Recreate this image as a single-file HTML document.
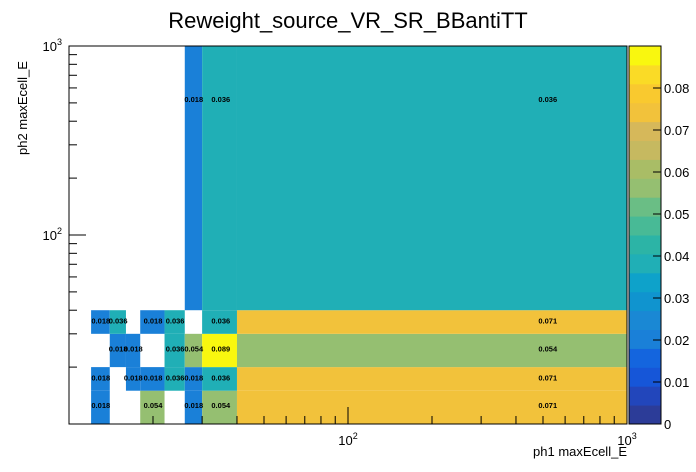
<!DOCTYPE html>
<html><head><meta charset="utf-8">
<style>
body{margin:0;background:#fff;}
svg{display:block;font-family:"Liberation Sans",Arial,sans-serif;}
</style></head>
<body>
<svg id="chart" width="696" height="472" viewBox="0 0 696 472">
<rect width="696" height="472" fill="#fff"/>
<text x="348" y="28" font-size="22" text-anchor="middle" fill="#000">Reweight_source_VR_SR_BBantiTT</text>
<g id="cells"></g>
<g id="labels"></g>
<rect x="69" y="46" width="558" height="378" fill="none" stroke="#000" stroke-width="1"/>
<g id="axes"></g>
<g id="cbar"></g>
<text x="627" y="456" font-size="13" text-anchor="end">ph1 maxEcell_E</text>
<text transform="translate(27,155) rotate(-90)" font-size="13" text-anchor="start">ph2 maxEcell_E</text>
</svg>
<script>
const xEdges=[12,14,16,18,22,26,30,40,1000];
const yEdges=[10,15,20,30,40,1000];
// rows: index by y bin (bottom to top), columns by x bin; null = empty
const row0=[0.018,null,null,0.054,null,0.018,0.054,0.071];
const row1=[0.018,null,0.018,0.018,0.036,0.018,0.036,0.071];
const row2=[null,0.018,0.018,null,0.036,0.054,0.089,0.054];
const row3=[0.018,0.036,null,0.018,0.036,null,0.036,0.071];
const row4=[null,null,null,null,null,0.018,0.036,0.036];
const zMax=0.09;
const cbTicks=[0,0.01,0.02,0.03,0.04,0.05,0.06,0.07,0.08];
const palette=["#2c3c98","#2246bb","#1656d8","#1465de","#1a80d8","#1a88d4","#1094cf","#0ea2ca","#20afb6","#2cb4a6","#48ba96","#6abe85","#95bf71","#a9bd66","#c6b960","#d6b85a","#f2c23b","#f9c92f","#fadb26","#f9f70f"];
const rows=[row0,row1,row2,row3,row4];
const NS="http://www.w3.org/2000/svg";
const L=69,R=627,T=46,B=424;
function xs(v){return L+(R-L)*(Math.log10(v)-1)/2;}
function ys(v){return B-(B-T)*(Math.log10(v)-1)/2;}
function col(v){let i=Math.floor(v/zMax*20+0.5);return palette[Math.max(0,Math.min(19,i))];}
function mk(tag,attrs,parent){const e=document.createElementNS(NS,tag);for(const k in attrs)e.setAttribute(k,attrs[k]);parent.appendChild(e);return e;}
const cells=document.getElementById('cells'),labels=document.getElementById('labels');
rows.forEach((r,j)=>{r.forEach((v,i)=>{if(v==null)return;
 const x0=xs(xEdges[i]),x1=xs(xEdges[i+1]),y0=ys(yEdges[j+1]),y1=ys(yEdges[j]);
 const rc=mk('rect',{x:x0,y:y0,width:x1-x0,height:y1-y0,fill:col(v)},cells);
 
 
 const cx=xs((xEdges[i]+xEdges[i+1])/2),cy=ys((yEdges[j]+yEdges[j+1])/2);
 const t=mk('text',{x:cx,y:cy+2.5,'font-size':7.5,'font-weight':'bold','text-anchor':'middle'},labels);
 t.textContent=v.toFixed(3);
 
 
});});
const axes=document.getElementById('axes');
function line(x1,y1,x2,y2,p){return mk('line',{x1,y1,x2,y2,stroke:'#000','stroke-width':1},p);}
for(let d=10;d<=1000;d*=10){for(let k=1;k<10;k++){const v=d*k;if(v<10||v>1000)continue;const major=k==1;
 const x=xs(v);line(x,B,x,B-(major?17:8),axes);
 const y=ys(v);line(L,y,L+(major?17:8),y,axes);}}
[[100,'2'],[1000,'3']].forEach(([v,e])=>{
 const t=mk('text',{x:xs(v),y:445,'font-size':13,'text-anchor':'middle'},axes);t.innerHTML='10<tspan dy="-6" font-size="9">'+e+'</tspan>';
 
 
 const u=mk('text',{x:62,y:ys(v)+5,'font-size':13,'text-anchor':'end'},axes);u.innerHTML='10<tspan dy="-6" font-size="9">'+e+'</tspan>';
 
 
});
const cb=document.getElementById('cbar');const CL=629,CR=661;
for(let i=0;i<20;i++){const y0=B-(i+1)*(B-T)/20;const r=mk('rect',{x:CL,y:y0,width:CR-CL,height:(B-T)/20+0.5,fill:palette[i]},cb);
 
 }
mk('rect',{x:CL,y:T,width:CR-CL,height:B-T,fill:'none',stroke:'#000','stroke-width':1},cb);
cbTicks.forEach(v=>{const y=B-(B-T)*v/zMax;line(CR-8,y,CR,y,cb);
 const t=mk('text',{x:CR+3,y:y+5,'font-size':13},cb);t.textContent=String(v);
 
 });
</script>
</body></html>
